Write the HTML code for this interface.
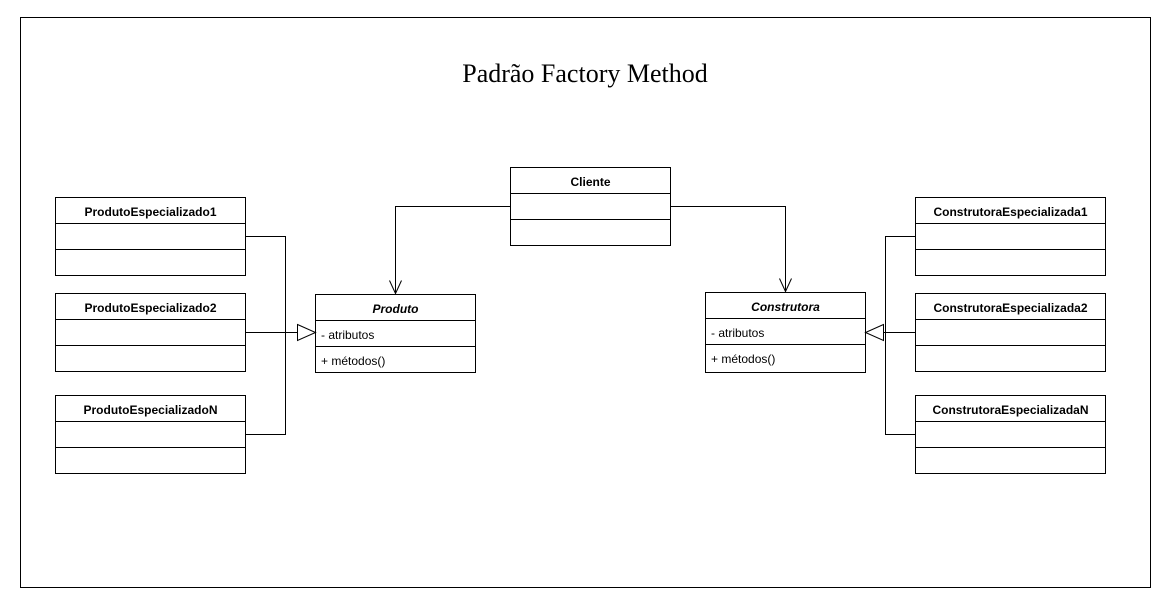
<!DOCTYPE html>
<html><head><style>body{margin:0;background:#fff}</style></head><body>
<svg width="1169" height="605" xmlns="http://www.w3.org/2000/svg" style="display:block">
<rect x="0" y="0" width="1169" height="605" fill="#fff"/>
<rect x="20.5" y="17.5" width="1130" height="570" fill="#fff" stroke="#000"/>
<text x="585" y="82" text-anchor="middle" font-family="Liberation Serif, serif" font-size="26">Padrão Factory Method</text>
<g fill="none" stroke="#000">
<!-- boxes -->
<rect x="510.5" y="167.5" width="160" height="78"/><path d="M510.5 193.5H670.5M510.5 219.5H670.5"/>
<rect x="315.5" y="294.5" width="160" height="78"/><path d="M315.5 320.5H475.5M315.5 346.5H475.5"/>
<rect x="705.5" y="292.5" width="160" height="80"/><path d="M705.5 318.5H865.5M705.5 344.5H865.5"/>
<rect x="55.5" y="197.5" width="190" height="78"/><path d="M55.5 223.5H245.5M55.5 249.5H245.5"/>
<rect x="55.5" y="293.5" width="190" height="78"/><path d="M55.5 319.5H245.5M55.5 345.5H245.5"/>
<rect x="55.5" y="395.5" width="190" height="78"/><path d="M55.5 421.5H245.5M55.5 447.5H245.5"/>
<rect x="915.5" y="197.5" width="190" height="78"/><path d="M915.5 223.5H1105.5M915.5 249.5H1105.5"/>
<rect x="915.5" y="293.5" width="190" height="78"/><path d="M915.5 319.5H1105.5M915.5 345.5H1105.5"/>
<rect x="915.5" y="395.5" width="190" height="78"/><path d="M915.5 421.5H1105.5M915.5 447.5H1105.5"/>
<!-- connectors -->
<path d="M510.5 206.5H395.5V293.5M389.5 280.5L395.5 293.5L401.5 280.5"/>
<path d="M670.5 206.5H785.5V291.5M779.5 278.5L785.5 291.5L791.5 278.5"/>
<path d="M245.5 236.5H285.5V434.5H245.5M245.5 332.5H297.5"/>
<path d="M297.5 324.5L315.5 332.5L297.5 340.5Z" fill="#fff"/>
<path d="M915.5 236.5H885.5V434.5H915.5M915.5 332.5H883.5"/>
<path d="M883.5 324.5L865.5 332.5L883.5 340.5Z" fill="#fff"/>
</g>
<g font-family="Liberation Sans, sans-serif" font-size="12" fill="#000">
<g font-weight="bold" text-anchor="middle">
<text x="590.5" y="186">Cliente</text>
<text x="150.5" y="216">ProdutoEspecializado1</text>
<text x="150.5" y="312">ProdutoEspecializado2</text>
<text x="150.5" y="414">ProdutoEspecializadoN</text>
<text x="1010.5" y="216">ConstrutoraEspecializada1</text>
<text x="1010.5" y="312">ConstrutoraEspecializada2</text>
<text x="1010.5" y="414">ConstrutoraEspecializadaN</text>
<text x="395.5" y="313" font-style="italic">Produto</text>
<text x="785.5" y="311" font-style="italic">Construtora</text>
</g>
<text x="321" y="339">- atributos</text>
<text x="321" y="365">+ métodos()</text>
<text x="711" y="337">- atributos</text>
<text x="711" y="363">+ métodos()</text>
</g>
</svg>
</body></html>
